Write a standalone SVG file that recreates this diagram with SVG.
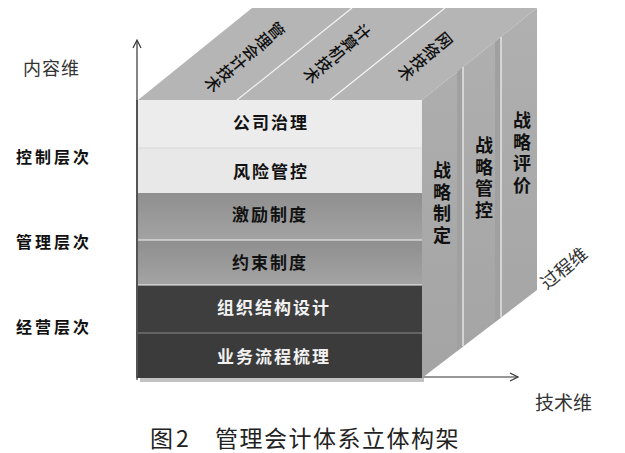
<svg xmlns="http://www.w3.org/2000/svg" width="625" height="453" viewBox="0 0 625 453">
<style>
.cjk{font-family:"Noto Sans CJK SC","Noto Sans",sans-serif}
.band{font-family:"Noto Sans CJK SC",sans-serif;font-weight:700;font-size:17px;letter-spacing:2px}
.side{font-family:"Noto Sans CJK SC",sans-serif;font-weight:700;font-size:18px;fill:#111;writing-mode:vertical-rl;letter-spacing:3.7px}
.top{font-family:"Noto Sans CJK SC",sans-serif;font-weight:500;font-size:16px;fill:#111}
.lvl{font-family:"Noto Sans CJK SC",sans-serif;font-weight:700;font-size:16px;letter-spacing:3px;fill:#111}
.sep{stroke:#f4f4f4;stroke-width:1.2}
.axis{stroke:#333;stroke-width:1.2;fill:none}
</style>
<defs>
<linearGradient id="gGray" x1="0" y1="0" x2="0" y2="1"><stop offset="0" stop-color="#8f8f8f"/><stop offset="1" stop-color="#a3a3a3"/></linearGradient>
<linearGradient id="gRight" x1="0" y1="0" x2="0" y2="1"><stop offset="0" stop-color="#b0b0b0"/><stop offset="1" stop-color="#a4a4a4"/></linearGradient>
</defs>

<g id="axes">
<line class="axis" x1="137" y1="41" x2="137" y2="380"/>
<polyline class="axis" points="133,48 137,40 141,48"/>
<line class="axis" x1="137" y1="377" x2="518" y2="377"/>
<polyline class="axis" points="510,373 518,377 510,381"/>
</g>

<g id="top-face">
<polygon points="138,100 422,100 537,8 252,8" fill="#b5b5b5"/>
<line class="sep" x1="237" y1="100" x2="352" y2="8"/>
<line class="sep" x1="330" y1="100" x2="445" y2="8"/>
<g transform="translate(277,30) rotate(50)"><text class="top" text-anchor="middle" dominant-baseline="central"><tspan x="0" y="0">管</tspan><tspan x="0" y="16.5">理</tspan><tspan x="0" y="33">会</tspan><tspan x="0" y="49.5">计</tspan><tspan x="0" y="66">技</tspan><tspan x="0" y="82.5">术</tspan></text></g>
<g transform="translate(363,32) rotate(50)"><text class="top" text-anchor="middle" dominant-baseline="central"><tspan x="0" y="0">计</tspan><tspan x="0" y="16.5">算</tspan><tspan x="0" y="33">机</tspan><tspan x="0" y="49.5">技</tspan><tspan x="0" y="66">术</tspan></text></g>
<g transform="translate(445,40) rotate(50)"><text class="top" text-anchor="middle" dominant-baseline="central"><tspan x="0" y="0">网</tspan><tspan x="0" y="16.5">络</tspan><tspan x="0" y="33">技</tspan><tspan x="0" y="49.5">术</tspan></text></g>
</g>

<g id="right-face">
<polygon points="422,100 537,8 537,290 422,378" fill="url(#gRight)"/>
<polygon points="457,72 463,67 463,346 457,351" fill="#a0a0a0"/>
<polygon points="495,42 501,37 501,317 495,322" fill="#a0a0a0"/>
<line class="sep" x1="463" y1="67" x2="463" y2="346"/>
<line class="sep" x1="501" y1="37" x2="501" y2="317"/>
<text class="side" x="442" y="161">战略制定</text>
<text class="side" x="484" y="136">战略管控</text>
<text class="side" x="522" y="111">战略评价</text>
</g>

<g id="front-face">
<rect x="140" y="378" width="284" height="4" fill="#9a9a9a" opacity="0.6"/>
<rect x="138" y="100" width="284" height="48" fill="#ececec"/>
<rect x="138" y="148" width="284" height="45" fill="#e8e8e8"/>
<rect x="138" y="193" width="284" height="47" fill="url(#gGray)"/>
<rect x="138" y="240" width="284" height="45" fill="url(#gGray)"/>
<rect x="138" y="285" width="284" height="48" fill="#3e3e3e"/>
<rect x="138" y="333" width="284" height="45" fill="#3b3b3b"/>
<line stroke="#d8d8d8" stroke-width="1" x1="138" y1="148" x2="422" y2="148"/>
<line class="sep" x1="138" y1="240" x2="422" y2="240"/>
<line class="sep" x1="138" y1="285" x2="422" y2="285"/>
<line stroke="#8a8a8a" stroke-width="1.2" x1="138" y1="333" x2="422" y2="333"/>
<line class="axis" x1="137" y1="100" x2="137" y2="378"/>
</g>

<g id="band-labels">
<text class="band" x="233" y="129" fill="#111">公司治理</text>
<text class="band" x="233" y="178" fill="#111">风险管控</text>
<text class="band" x="232" y="221" fill="#111">激励制度</text>
<text class="band" x="232" y="269" fill="#111">约束制度</text>
<text class="band" x="217" y="314" fill="#f2f2f2">组织结构设计</text>
<text class="band" x="217" y="363" fill="#f2f2f2">业务流程梳理</text>
</g>

<g id="dimension-labels">
<text class="cjk" x="23" y="75" font-size="18" letter-spacing="1" fill="#333">内容维</text>
<text class="lvl" x="16" y="163">控制层次</text>
<text class="lvl" x="16" y="248">管理层次</text>
<text class="lvl" x="16" y="333">经营层次</text>
<text class="cjk" x="535" y="410" font-size="19" fill="#333">技术维</text>
<text class="cjk" font-size="18" fill="#333" text-anchor="middle" dominant-baseline="central" transform="translate(563,267) rotate(-39)">过程维</text>
</g>

<g id="caption">
<text class="cjk" x="150" y="447" font-size="23" fill="#222">图<tspan dx="3">2</tspan></text>
<text class="cjk" x="215" y="447" font-size="23" letter-spacing="1.5" fill="#222">管理会计体系立体构架</text>
</g>
</svg>
